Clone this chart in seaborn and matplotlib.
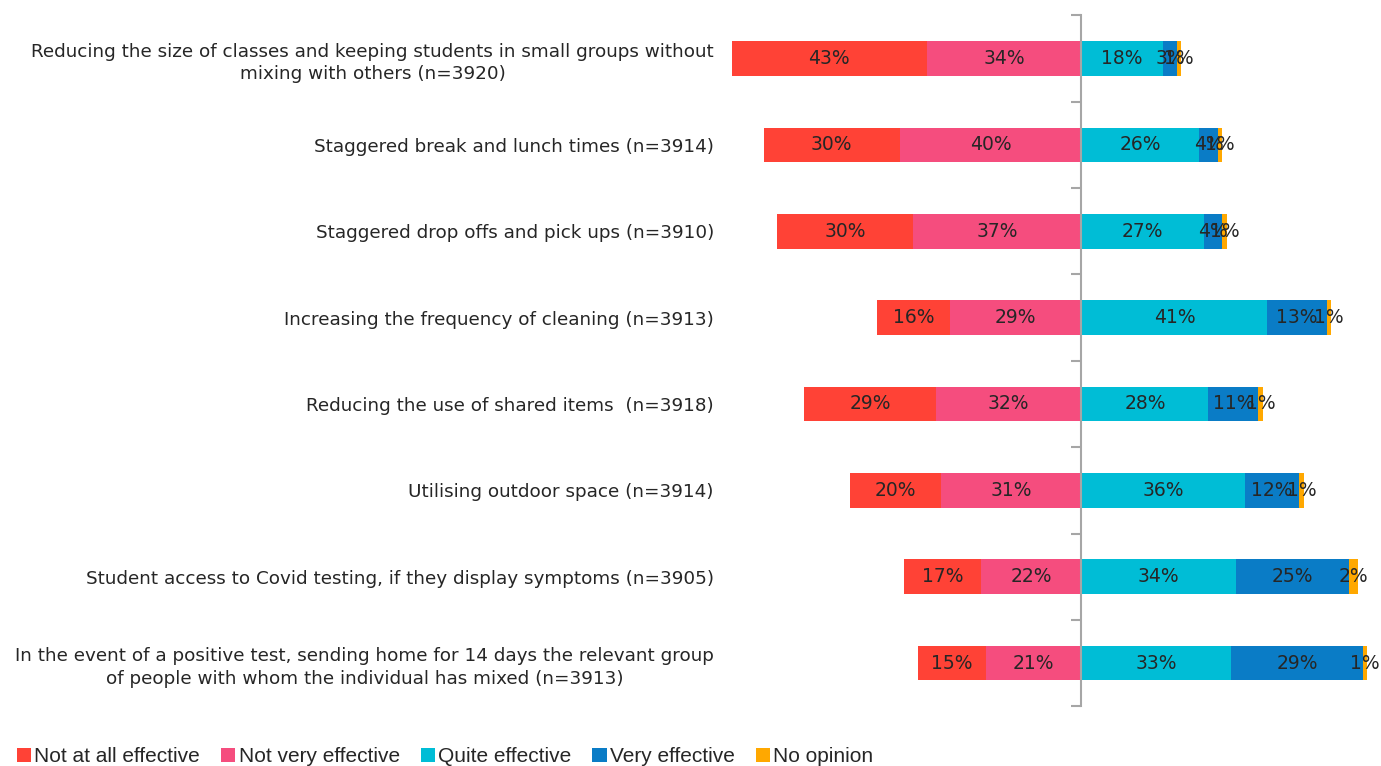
import numpy as np
import pandas as pd
import matplotlib
matplotlib.use("Agg")
import matplotlib.pyplot as plt
from matplotlib.patches import Patch
from matplotlib.ticker import FixedLocator
import seaborn as sns

statements = [
    "Reducing the size of classes and keeping students in small groups without\nmixing with others (n=3920)",
    "Staggered break and lunch times (n=3914)",
    "Staggered drop offs and pick ups (n=3910)",
    "Increasing the frequency of cleaning (n=3913)",
    "Reducing the use of shared items  (n=3918)",
    "Utilising outdoor space (n=3914)",
    "Student access to Covid testing, if they display symptoms (n=3905)",
    "In the event of a positive test, sending home for 14 days the relevant group\nof people with whom the individual has mixed (n=3913)",
]
not_at_all = [43, 30, 30, 16, 29, 20, 17, 15]
not_very = [34, 40, 37, 29, 32, 31, 22, 21]
quite = [18, 26, 27, 41, 28, 36, 34, 33]
very = [3, 4, 4, 13, 11, 12, 25, 29]
no_opinion = [1, 1, 1, 1, 1, 1, 2, 1]

legend_labels = ["Not at all effective", "Not very effective", "Quite effective",
                 "Very effective", "No opinion"]
COLORS = ["#FF4236", "#F54D7E", "#00BDD6", "#0A7CC6", "#FFA800"]
AXIS_GREY = "#A6A6A6"
TEXT = "#262626"

sns.set_theme(style="white")
plt.rcParams['font.family'] = ['DejaVu Sans']

df = pd.DataFrame({
    "statement": statements,
    "not_at_all": not_at_all,
    "not_very": not_very,
    "quite": quite,
    "very": very,
    "no_opinion": no_opinion,
})
# cumulative ends so overlapping bars from zero give the stacked look
df["left_outer"] = -(df["not_at_all"] + df["not_very"])
df["left_inner"] = -df["not_very"]
df["right_outer"] = df["quite"] + df["very"] + df["no_opinion"]
df["right_mid"] = df["quite"] + df["very"]
df["right_inner"] = df["quite"]

fig = plt.figure(figsize=(13.81, 7.66), dpi=100)
ax = fig.add_axes([0.52, 0.078, 0.48, 0.902])

layers = [("left_outer", COLORS[0]), ("left_inner", COLORS[1]),
          ("right_outer", COLORS[4]), ("right_mid", COLORS[3]),
          ("right_inner", COLORS[2])]
for col, color in layers:
    sns.barplot(data=df, x=col, y="statement", color=color, saturation=1,
                width=0.4, linewidth=0, errorbar=None, orient="h", ax=ax)

# segment labels
for i, r in df.iterrows():
    segs = [
        (-(r["not_very"] + r["not_at_all"] / 2), r["not_at_all"]),
        (-r["not_very"] / 2, r["not_very"]),
        (r["quite"] / 2, r["quite"]),
        (r["quite"] + r["very"] / 2, r["very"]),
        (r["quite"] + r["very"] + r["no_opinion"] / 2, r["no_opinion"]),
    ]
    for xc, v in segs:
        ax.text(xc, i, f"{v}%", ha="center", va="center", fontsize=13.5, color=TEXT)

ax.set_xlim(-80, 66)
ax.set_xticks([])
ax.set_xlabel("")
ax.set_ylabel("")

for s in ["left", "top", "bottom"]:
    ax.spines[s].set_visible(False)
ax.spines["right"].set_position(("data", 0))
ax.spines["right"].set_color(AXIS_GREY)
ax.spines["right"].set_linewidth(1.5)

ax.yaxis.set_minor_locator(FixedLocator(np.arange(-0.5, len(statements), 1)))
ax.tick_params(axis="y", which="major", left=False, right=False, length=0,
               labelsize=13.2, labelcolor=TEXT, pad=3)
ax.tick_params(axis="y", which="minor", left=False, right=True,
               direction="in", length=7, width=1.5, color=AXIS_GREY)
for lbl in ax.get_yticklabels():
    lbl.set_multialignment("center")
    lbl.set_linespacing(1.35)

handles = [Patch(facecolor=c, edgecolor="none") for c in COLORS]
fig.legend(handles, legend_labels, loc="center left", bbox_to_anchor=(0.006, 0.012),
           ncol=5, frameon=False, handlelength=0.7, handleheight=0.7,
           handletextpad=0.15, columnspacing=1.0, borderaxespad=0,
           prop={"family": ["Liberation Sans", "DejaVu Sans"], "size": 15})

fig.savefig("out.png", dpi=100)
